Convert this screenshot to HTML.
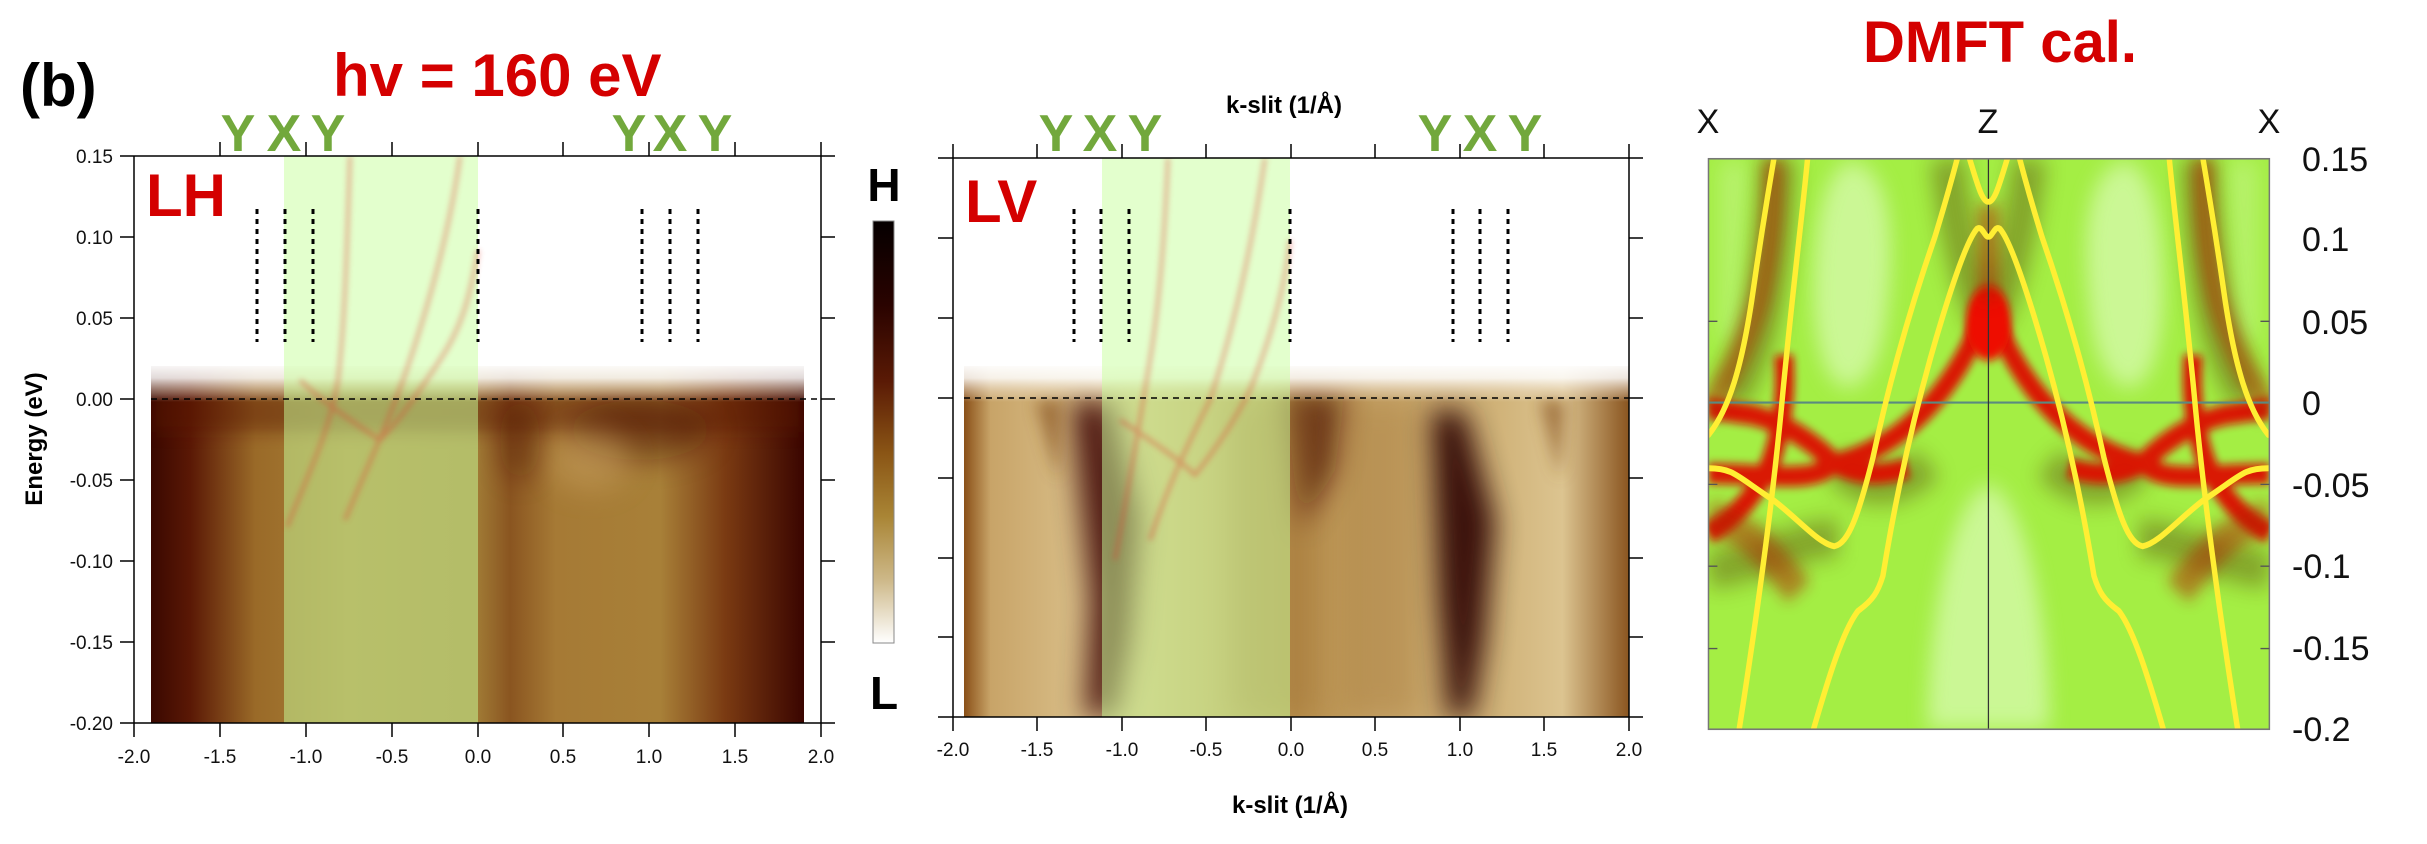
<!DOCTYPE html>
<html><head><meta charset="utf-8"><style>
html,body{margin:0;padding:0;background:#fff;}
svg{display:block;}
text{font-family:"Liberation Sans",sans-serif;}
</style></head><body>
<svg width="2427" height="844" viewBox="0 0 2427 844" xmlns="http://www.w3.org/2000/svg">
<defs>
<filter id="b8" x="-50%" y="-50%" width="200%" height="200%"><feGaussianBlur stdDeviation="8"/></filter>
<filter id="b14" x="-50%" y="-50%" width="200%" height="200%"><feGaussianBlur stdDeviation="14"/></filter>
<filter id="b3"><feGaussianBlur stdDeviation="3"/></filter>
<filter id="b20" x="-50%" y="-50%" width="200%" height="200%"><feGaussianBlur stdDeviation="20"/></filter>
<linearGradient id="cbar" x1="0" y1="0" x2="0" y2="1">
<stop offset="0" stop-color="#050000"/><stop offset="0.2" stop-color="#2a0300"/><stop offset="0.38" stop-color="#5a1a05"/>
<stop offset="0.55" stop-color="#8a5515"/><stop offset="0.7" stop-color="#a98535"/><stop offset="0.85" stop-color="#cdb888"/><stop offset="1" stop-color="#ffffff"/>
</linearGradient>
<linearGradient id="lhbase" x1="0" y1="0" x2="1" y2="0">
<stop offset="0" stop-color="#3a0800"/><stop offset="0.06" stop-color="#5a1805"/><stop offset="0.16" stop-color="#9a6a28"/>
<stop offset="0.3" stop-color="#a88038"/><stop offset="0.5" stop-color="#a07a35"/><stop offset="0.55" stop-color="#8a5520"/>
<stop offset="0.62" stop-color="#a67a35"/><stop offset="0.78" stop-color="#a88038"/><stop offset="0.88" stop-color="#7a3a12"/><stop offset="1" stop-color="#3a0500"/>
</linearGradient>
<linearGradient id="lvbase" x1="0" y1="0" x2="1" y2="0">
<stop offset="0" stop-color="#8a5018"/><stop offset="0.04" stop-color="#c8a468"/><stop offset="0.2" stop-color="#dcc38e"/>
<stop offset="0.5" stop-color="#b8904c"/><stop offset="0.62" stop-color="#c7a468"/><stop offset="0.8" stop-color="#d0b278"/>
<stop offset="0.9" stop-color="#dcc490"/><stop offset="1" stop-color="#8a5520"/>
</linearGradient>
<linearGradient id="topfade" x1="0" y1="0" x2="0" y2="1">
<stop offset="0" stop-color="#fff" stop-opacity="1"/><stop offset="0.4" stop-color="#fff" stop-opacity="0.85"/><stop offset="0.75" stop-color="#f4e8d8" stop-opacity="0.4"/><stop offset="1" stop-color="#fff" stop-opacity="0"/>
</linearGradient>
<clipPath id="clipLH"><rect x="151" y="156" width="653" height="567"/></clipPath>
<clipPath id="clipLV"><rect x="964" y="158" width="665" height="559"/></clipPath>
<clipPath id="clipDM"><rect x="118" y="295" width="1132" height="1060"/></clipPath>
</defs>

<text x="20" y="106" font-size="60" font-weight="bold">(b)</text>
<text x="333" y="96" font-size="60" font-weight="bold" fill="#d40000">hv = 160 eV</text>
<text x="2000" y="62" font-size="58" font-weight="bold" fill="#d40000" text-anchor="middle">DMFT cal.</text>

<!-- ===== LH panel ===== -->
<g clip-path="url(#clipLH)">
<rect x="151" y="365" width="653" height="358" fill="url(#lhbase)"/>
<rect x="151" y="392" width="653" height="40" fill="#5a1505" opacity="0.45" filter="url(#b8)"/>
<ellipse cx="640" cy="430" rx="70" ry="30" fill="#4a0a00" opacity="0.5" filter="url(#b14)"/>
<ellipse cx="520" cy="440" rx="20" ry="40" fill="#4a0a00" opacity="0.4" filter="url(#b14)"/>
<ellipse cx="590" cy="460" rx="40" ry="30" fill="#c8a060" opacity="0.5" filter="url(#b14)"/>
<rect x="151" y="156" width="653" height="210" fill="#fff"/>
<rect x="151" y="362" width="653" height="40" fill="url(#topfade)"/>
<rect x="284" y="156" width="194" height="567" fill="#c8ff9c" opacity="0.5"/>
<g fill="none" stroke="#e04030" stroke-width="4" opacity="0.4" filter="url(#b3)">
<path d="M287,527 C310,470 330,430 338,380 C345,320 347,250 350,156"/>
<path d="M345,520 C370,460 390,420 410,360 C430,300 450,230 460,156"/>
<path d="M300,380 C320,400 350,420 380,440 C400,420 420,390 440,360 C460,330 470,300 478,250"/>
</g>
</g>
<line x1="151" y1="399" x2="821" y2="399" stroke="#000" stroke-width="1.5" stroke-dasharray="6,5"/>
<g stroke="#000" stroke-width="3" stroke-dasharray="5,5">
<line x1="257" y1="209" x2="257" y2="342"/><line x1="285" y1="209" x2="285" y2="342"/><line x1="313" y1="209" x2="313" y2="342"/><line x1="478" y1="209" x2="478" y2="342"/>
<line x1="642" y1="209" x2="642" y2="342"/><line x1="670" y1="209" x2="670" y2="342"/><line x1="698" y1="209" x2="698" y2="342"/>
</g>
<g stroke="#000" stroke-width="1.5" fill="none">
<line x1="134" y1="156" x2="134" y2="723"/><line x1="134" y1="156" x2="821" y2="156"/><line x1="134" y1="723" x2="821" y2="723"/><line x1="821" y1="156" x2="821" y2="723"/>
<path d="M220,156v-14M306,156v-14M392,156v-14M478,156v-14M563,156v-14M649,156v-14M735,156v-14M821,156v-14"/>
<path d="M134,723v14M220,723v14M306,723v14M392,723v14M478,723v14M563,723v14M649,723v14M735,723v14M821,723v14"/>
<path d="M134,156h-14M134,237h-14M134,318h-14M134,399h-14M134,480h-14M134,561h-14M134,642h-14M134,723h-14"/>
<path d="M821,156h14M821,237h14M821,318h14M821,399h14M821,480h14M821,561h14M821,642h14M821,723h14"/>
</g>
<g font-size="19" text-anchor="end" fill="#111">
<text x="113" y="163">0.15</text><text x="113" y="244">0.10</text><text x="113" y="325">0.05</text><text x="113" y="406">0.00</text>
<text x="113" y="487">-0.05</text><text x="113" y="568">-0.10</text><text x="113" y="649">-0.15</text><text x="113" y="730">-0.20</text>
</g>
<g font-size="19" text-anchor="middle" fill="#111">
<text x="134" y="763">-2.0</text><text x="220" y="763">-1.5</text><text x="306" y="763">-1.0</text><text x="392" y="763">-0.5</text>
<text x="478" y="763">0.0</text><text x="563" y="763">0.5</text><text x="649" y="763">1.0</text><text x="735" y="763">1.5</text><text x="821" y="763">2.0</text>
</g>
<text transform="translate(42,439) rotate(-90)" font-size="24" font-weight="bold" text-anchor="middle">Energy (eV)</text>
<text x="146" y="216" font-size="60" font-weight="bold" fill="#d40000">LH</text>
<g font-size="52" font-weight="bold" fill="#72a83c" text-anchor="middle">
<text x="238" y="151">Y</text><text x="284" y="151">X</text><text x="328" y="151">Y</text>
<text x="629" y="151">Y</text><text x="670" y="151">X</text><text x="715" y="151">Y</text>
</g>

<rect x="873" y="221" width="21" height="422" fill="url(#cbar)" stroke="#888" stroke-width="1"/>
<text x="884" y="201" font-size="46" font-weight="bold" text-anchor="middle">H</text>
<text x="884" y="709" font-size="46" font-weight="bold" text-anchor="middle">L</text>

<!-- ===== LV panel ===== -->
<g clip-path="url(#clipLV)">
<rect x="964" y="365" width="665" height="352" fill="url(#lvbase)"/>
<path d="M1070,400 L1112,400 L1140,520 L1130,640 L1115,717 L1085,717 L1090,600 Z" fill="#3a0500" opacity="0.85" filter="url(#b14)"/>
<path d="M1430,410 L1465,410 L1495,520 L1485,640 L1472,717 L1448,717 L1438,600 Z" fill="#2a0200" opacity="0.9" filter="url(#b14)"/>
<path d="M1285,395 L1345,395 L1335,470 L1300,530 Z" fill="#4a0a00" opacity="0.75" filter="url(#b14)"/>
<path d="M1035,400 L1062,400 L1058,480 Z" fill="#8a5520" opacity="0.7" filter="url(#b8)"/>
<path d="M1540,400 L1565,400 L1560,480 Z" fill="#8a5520" opacity="0.7" filter="url(#b8)"/>
<rect x="1230" y="400" width="90" height="317" fill="#9a6a30" opacity="0.35" filter="url(#b14)"/>
<rect x="1340" y="400" width="80" height="317" fill="#a67a3a" opacity="0.4" filter="url(#b14)"/>
<rect x="964" y="158" width="665" height="208" fill="#fff"/>
<rect x="964" y="362" width="665" height="40" fill="url(#topfade)"/>
<rect x="1102" y="158" width="188" height="559" fill="#c8ff9c" opacity="0.5"/>
<g fill="none" stroke="#e04030" stroke-width="4" opacity="0.4" filter="url(#b3)">
<path d="M1115,560 C1130,480 1140,420 1150,360 C1160,300 1165,230 1168,158"/>
<path d="M1150,540 C1170,480 1190,440 1210,400 C1230,340 1250,260 1265,158"/>
<path d="M1120,420 C1150,440 1180,460 1195,475 C1215,450 1235,420 1250,390 C1270,340 1285,290 1290,240"/>
</g>
</g>
<line x1="964" y1="398" x2="1629" y2="398" stroke="#000" stroke-width="1.5" stroke-dasharray="6,5"/>
<g stroke="#000" stroke-width="3" stroke-dasharray="5,5">
<line x1="1074" y1="209" x2="1074" y2="342"/><line x1="1101" y1="209" x2="1101" y2="342"/><line x1="1129" y1="209" x2="1129" y2="342"/><line x1="1290" y1="209" x2="1290" y2="342"/>
<line x1="1453" y1="209" x2="1453" y2="342"/><line x1="1480" y1="209" x2="1480" y2="342"/><line x1="1508" y1="209" x2="1508" y2="342"/>
</g>
<g stroke="#000" stroke-width="1.5" fill="none">
<line x1="953" y1="158" x2="953" y2="717"/><line x1="938" y1="158" x2="1643" y2="158"/><line x1="938" y1="717" x2="1643" y2="717"/><line x1="1629" y1="158" x2="1629" y2="717"/>
<path d="M953,158v-14M1037,158v-14M1122,158v-14M1206,158v-14M1291,158v-14M1375,158v-14M1460,158v-14M1544,158v-14M1629,158v-14"/>
<path d="M953,717v14M1037,717v14M1122,717v14M1206,717v14M1291,717v14M1375,717v14M1460,717v14M1544,717v14M1629,717v14"/>
<path d="M953,238h-15M953,318h-15M953,398h-15M953,478h-15M953,558h-15M953,637h-15"/>
<path d="M1629,238h14M1629,318h14M1629,398h14M1629,478h14M1629,558h14M1629,637h14"/>
</g>
<g font-size="19" text-anchor="middle" fill="#111">
<text x="953" y="756">-2.0</text><text x="1037" y="756">-1.5</text><text x="1122" y="756">-1.0</text><text x="1206" y="756">-0.5</text>
<text x="1291" y="756">0.0</text><text x="1375" y="756">0.5</text><text x="1460" y="756">1.0</text><text x="1544" y="756">1.5</text><text x="1629" y="756">2.0</text>
</g>
<text x="1284" y="113" font-size="24" font-weight="bold" text-anchor="middle">k-slit (1/Å)</text>
<text x="1290" y="813" font-size="24" font-weight="bold" text-anchor="middle">k-slit (1/Å)</text>
<text x="965" y="222" font-size="60" font-weight="bold" fill="#d40000">LV</text>
<g font-size="52" font-weight="bold" fill="#72a83c" text-anchor="middle">
<text x="1056" y="151">Y</text><text x="1100" y="151">X</text><text x="1145" y="151">Y</text>
<text x="1435" y="151">Y</text><text x="1480" y="151">X</text><text x="1525" y="151">Y</text>
</g>

<!-- ===== DMFT panel ===== -->
<g transform="translate(1650,0) scale(0.4955,0.5382)">
<g clip-path="url(#clipDM)">
<rect x="118" y="295" width="1132" height="1060" fill="#a4ee44"/>
<g fill="#d8fab0" filter="url(#b20)" opacity="0.75">
<path d="M330,560 C330,420 350,320 400,300 C470,300 500,400 480,560 C470,680 430,720 400,720 C360,720 335,660 330,560 Z"/>
<path d="M1036,560 C1036,420 1016,320 966,300 C896,300 866,400 886,560 C896,680 936,720 966,720 C1006,720 1031,660 1036,560 Z"/>
<path d="M560,1355 C560,1150 610,920 683,900 C756,920 806,1150 806,1355 Z"/>
<path d="M140,300 L200,300 L180,620 L140,640 Z" opacity="0.5"/>
<path d="M1226,300 L1166,300 L1186,620 L1226,640 Z" opacity="0.5"/>
</g>
<g fill="none" stroke="#6a6a18" stroke-width="70" opacity="0.55" filter="url(#b20)">
<path d="M118,1060 C250,1040 300,1000 380,1000"/><path d="M1250,1060 C1116,1040 1066,1000 986,1000"/>
<path d="M260,295 C250,500 230,650 160,740"/><path d="M1106,295 C1116,500 1136,650 1206,740"/>
<path d="M600,295 C620,450 650,550 683,600"/><path d="M766,295 C746,450 716,550 683,600"/>
<path d="M380,860 C440,930 520,900 560,860"/><path d="M986,860 C926,930 846,900 806,860"/>
</g>
<g fill="none" stroke="#dd1000" stroke-width="38" filter="url(#b8)" opacity="0.95">
<path d="M683,560 C640,680 560,780 460,830 C420,850 390,860 370,860 C330,820 260,780 200,770 C160,765 130,760 118,760"/>
<path d="M683,560 C726,680 806,780 906,830 C946,850 976,860 996,860 C1036,820 1106,780 1166,770 C1206,765 1236,760 1250,760"/>
<path d="M118,990 C180,960 230,900 250,840 C270,780 275,720 270,660"/>
<path d="M1250,990 C1186,960 1136,900 1116,840 C1096,780 1091,720 1096,660"/>
<path d="M370,860 C330,900 250,880 118,880"/><path d="M996,860 C1036,900 1116,880 1250,880"/>
<path d="M370,860 C430,890 480,880 520,870"/><path d="M996,860 C936,890 886,880 846,870"/>
</g>
<ellipse cx="683" cy="600" rx="45" ry="70" fill="#ee0a00" filter="url(#b8)"/>
<g fill="none" stroke="#b02000" stroke-width="45" filter="url(#b14)" opacity="0.5">
<path d="M683,560 C683,480 683,420 683,380"/>
<path d="M118,770 C140,720 180,680 220,560 C240,480 250,400 250,295"/>
<path d="M1250,770 C1226,720 1186,680 1146,560 C1126,480 1116,400 1116,295"/>
<path d="M118,960 C200,980 250,1040 300,1100" stroke-width="60"/>
<path d="M1250,960 C1166,980 1116,1040 1066,1100" stroke-width="60"/>
</g>
<line x1="118" y1="748" x2="1250" y2="748" stroke="#5a8a80" stroke-width="4"/>
<line x1="683" y1="295" x2="683" y2="1355" stroke="#333" stroke-width="2.5"/>
<g fill="none" stroke="#ffee33" stroke-width="11" stroke-linecap="round">
<path d="M118,808 C160,760 185,680 205,560 C222,450 238,360 250,295"/>
<path d="M180,1355 C215,1150 245,950 265,760 C285,560 305,420 318,295"/>
<path d="M118,870 C170,870 175,885 250,930 C300,965 340,1010 372,1015 C400,1010 420,960 450,850 C485,700 530,560 575,440 C595,380 610,330 620,295"/>
<path d="M330,1355 C360,1260 390,1170 420,1135 C450,1115 460,1100 470,1070 C500,900 540,740 590,590 C620,500 645,440 660,425 C670,418 675,440 683,440 C691,440 696,418 706,425 C721,440 746,500 776,590 C826,740 866,900 896,1070 C906,1100 916,1115 946,1135 C976,1170 1006,1260 1036,1355"/>
<path d="M645,295 C660,340 670,375 683,375 C696,375 706,340 721,295"/>
<path d="M1248,808 C1206,760 1181,680 1161,560 C1144,450 1128,360 1116,295"/>
<path d="M1186,1355 C1151,1150 1121,950 1101,760 C1081,560 1061,420 1048,295"/>
<path d="M1248,870 C1196,870 1191,885 1116,930 C1066,965 1026,1010 994,1015 C966,1010 946,960 916,850 C881,700 836,560 791,440 C771,380 756,330 746,295"/>
</g>
</g>
<rect x="118" y="295" width="1132" height="1060" fill="none" stroke="#777" stroke-width="3"/>
<g stroke="#555" stroke-width="2.5">
<path d="M118,597h18M118,900h18M118,1052h18M118,1205h18M1250,597h-18M1250,900h-18M1250,1052h-18M1250,1205h-18"/>
</g>
</g>
<g font-size="34" fill="#111" text-anchor="middle">
<text x="1708" y="133">X</text><text x="1988" y="133">Z</text><text x="2269" y="133">X</text>
</g>
<g font-size="34" fill="#111">
<text x="2302" y="171">0.15</text><text x="2302" y="251">0.1</text><text x="2302" y="334">0.05</text><text x="2302" y="415">0</text>
<text x="2292" y="497">-0.05</text><text x="2292" y="578">-0.1</text><text x="2292" y="660">-0.15</text><text x="2292" y="741">-0.2</text>
</g>
</svg>
</body></html>
